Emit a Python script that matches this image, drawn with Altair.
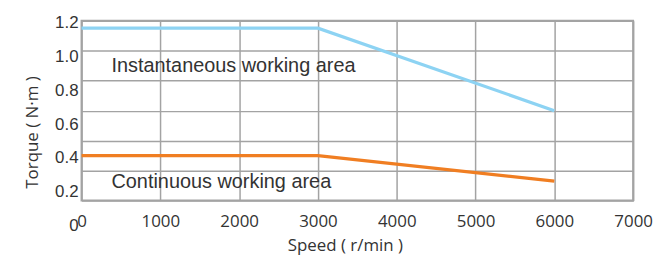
import altair as alt
import pandas as pd

# ---- data ----
speed = [0, 3000, 6000]
instantaneous = [1.15, 1.15, 0.6]
continuous = [0.3, 0.3, 0.13]
series_names = ["Instantaneous", "Continuous"]
series_colors = ["#8dd3f3", "#f07e22"]

x_ticks = [0, 1000, 2000, 3000, 4000, 5000, 6000, 7000]
y_grid = [0, 0.2, 0.4, 0.6, 0.8, 1.0, 1.2]
y_label_values = [0, 0.2, 0.4, 0.6, 0.8, 1.0, 1.2]
y_label_text = ["0", "0.2", "0.4", "0.6", "0.8", "1.0", "1.2"]

area_labels = ["Instantaneous working area", "Continuous working area"]
area_label_x = [380, 380]
area_label_y = [0.9, 0.125]

# ---- tables ----
lines_df = pd.DataFrame({
    "speed": speed * 2,
    "torque": instantaneous + continuous,
    "series": [series_names[0]] * len(speed) + [series_names[1]] * len(speed),
})
ylab_df = pd.DataFrame({"v": y_label_values, "t": y_label_text})
area_df = pd.DataFrame({"speed": area_label_x, "torque": area_label_y, "t": area_labels})

GRID = "#a3a3a3"
TXT = "#333333"

x_scale = alt.Scale(domain=[0, 7000], nice=False, zero=False)
y_scale = alt.Scale(domain=[0, 1.2], nice=False, zero=False)

x_axis = alt.Axis(values=x_ticks, grid=True, gridColor=GRID, gridWidth=1.5,
                  ticks=False, domain=False, format="d",
                  labelFont="Open Sans", labelFontSize=17, labelColor=TXT,
                  labelPadding=13, labelFlush=False, labelOverlap=False,
                  labelBound=False,
                  title="Speed ( r/min )", titleFont="Open Sans",
                  titleFontSize=17, titleFontWeight="normal", titleColor=TXT,
                  titleX=265, titleY=45, titleBaseline="middle")

lines = alt.Chart(lines_df).mark_line(strokeWidth=3.2).encode(
    x=alt.X("speed:Q", scale=x_scale, axis=x_axis),
    y=alt.Y("torque:Q", scale=y_scale,
            axis=alt.Axis(values=y_grid, grid=True, gridColor=GRID, gridWidth=1.5,
                          labels=False, ticks=False, domain=False,
                          title="Torque ( N·m )", titleFont="Open Sans",
                          titleFontSize=17, titleFontWeight="normal", titleColor=TXT,
                          titleX=-49, titleY=112, titleAngle=-90,
                          titleAlign="center", titleBaseline="middle")),
    color=alt.Color("series:N", scale=alt.Scale(domain=series_names, range=series_colors),
                    legend=None),
)

areas = alt.Chart(area_df).mark_text(
    align="left", baseline="middle", font="Liberation Sans", fontSize=20, color=TXT
).encode(
    x=alt.X("speed:Q", scale=x_scale, axis=x_axis),
    y=alt.Y("torque:Q", scale=y_scale, axis=None),
    text="t:N",
)

ylabels = alt.Chart(ylab_df).mark_text(
    align="right", baseline="middle", font="Liberation Sans", fontSize=17, color=TXT
).encode(
    x=alt.value(-3),
    y=alt.Y("v:Q", scale=alt.Scale(domain=[0.152, 1.212], nice=False, zero=False), axis=None),
    text="t:N",
)

chart = alt.layer(lines, areas, ylabels).resolve_scale(y="independent").properties(
    width=555, height=181, autosize="none", background="white",
    padding={"left": 74, "top": 12, "right": 21, "bottom": 56},
).configure_view(stroke=GRID, strokeWidth=2)

chart.save("out.html", embed_options={"renderer": "svg", "actions": False})
